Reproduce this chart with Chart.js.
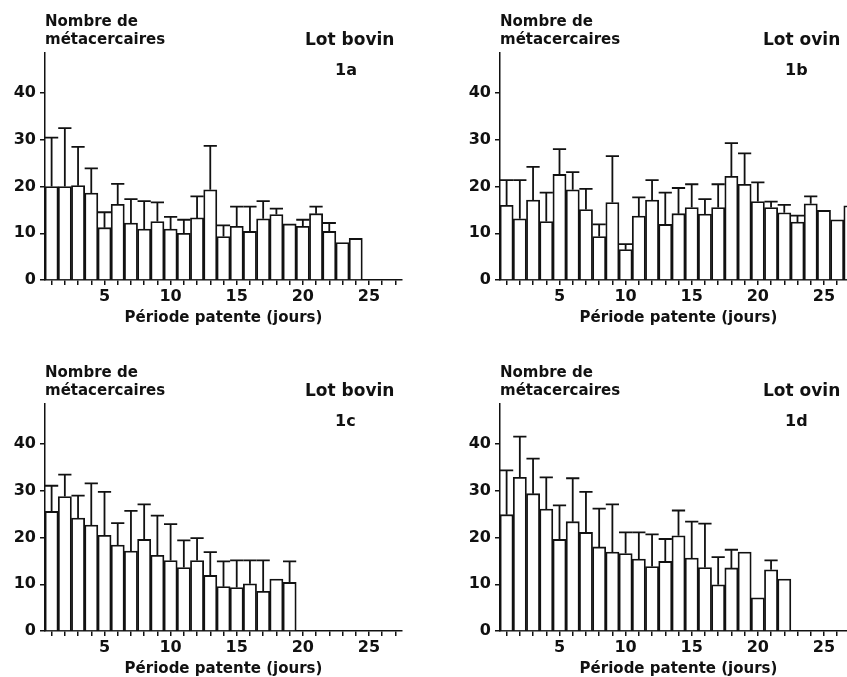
<!DOCTYPE html>
<html lang="fr">
<head>
<meta charset="utf-8">
<script src="https://cdn.jsdelivr.net/npm/chart.js@4"></script>
<style>
  html, body { margin: 0; padding: 0; background: #fff; overflow: hidden; width: 847px; height: 677px; position: relative; }
  .panel { position: absolute; width: 460px; height: 340px; }
  .panel canvas { position: absolute; left: 0; top: 0; }
  .lbl { position: absolute; font-family: 'DejaVu Sans', sans-serif; font-weight: bold; color: #111; white-space: nowrap; }
  .ytitre { left: 45px; top: 13px; font-size: 15px; line-height: 17.6px; }
  .lot { top: 29px; font-size: 17px; line-height: 20px; }
  .num { top: 60px; font-size: 16px; line-height: 20px; }
</style>
</head>
<body>
<script>
// jours de la période patente
const jours = [1, 2, 3, 4, 5, 6, 7, 8, 9, 10, 11, 12, 13, 14, 15, 16, 17, 18, 19, 20, 21, 22, 23, 24, 25, 26, 27];
const joursAffiches = [5, 10, 15, 20, 25];
const yTicks = [0, 10, 20, 30, 40];

// 1a - lot bovin
const bovin1a = [20, 20, 20.2, 18.6, 11.2, 16.2, 12.2, 10.9, 12.5, 10.9, 10, 13.3, 19.3, 9.3, 11.5, 10.4, 13.1, 14, 12, 11.5, 14.2, 10.4, 8, 8.9, null, null, null];
const bovin1aErr = [30.5, 32.5, 28.5, 23.9, 14.5, 20.6, 17.3, 16.9, 16.6, 13.5, 12.9, 17.9, 28.7, 11.7, 15.7, 15.7, 16.9, 15.3, null, 12.9, 15.7, 12.2, null, null, null, null, null];

// 1b - lot ovin
const ovin1b = [16, 13.1, 17.1, 12.5, 22.6, 19.3, 15.1, 9.3, 16.6, 6.5, 13.7, 17.1, 11.9, 14.2, 15.5, 14.1, 15.5, 22.2, 20.5, 16.8, 15.5, 14.4, 12.4, 16.3, 14.9, 12.9, 15.9];
const ovin1bErr = [21.4, 21.4, 24.2, 18.7, 28, 23.1, 19.5, 11.9, 26.5, 7.7, 17.7, 21.4, 18.7, 19.7, 20.5, 17.3, 20.5, 29.3, 27.1, 20.9, 16.8, 16.1, 13.8, 17.9, null, null, null];

// 1c - lot bovin
const bovin1c = [25.6, 28.8, 24.2, 22.7, 20.5, 18.4, 17.1, 19.6, 16.2, 15.1, 13.6, 15.1, 11.9, 9.5, 9.3, 10.1, 8.5, 11.1, 10.4, null, null, null, null, null, null, null, null];
const bovin1cErr = [31.1, 33.5, 29, 31.6, 29.8, 23.1, 25.7, 27.1, 24.7, 22.9, 19.4, 19.9, 16.9, 14.9, 15.1, 15.1, 15.1, null, 14.9, null, null, null, null, null, null, null, null];

// 1d - lot ovin
const ovin1d = [24.9, 32.9, 29.4, 26.1, 19.6, 23.4, 21.1, 18, 16.9, 16.6, 15.4, 13.8, 14.9, 20.4, 15.6, 13.6, 9.9, 13.5, 16.9, 7.1, 13.1, 11.1, null, null, null, null, null];
const ovin1dErr = [34.4, 41.6, 36.9, 32.9, 26.9, 32.7, 29.8, 26.2, 27.1, 21.1, 21.1, 20.7, 19.7, 25.8, 23.4, 23, 15.8, 17.4, null, null, 15.1, null, null, null, null, null, null];

const noir = '#111';

// barres d'erreur (seulement la moitié haute)
const barresErreur = {
    id: 'barresErreur',
    afterDatasetsDraw(chart, args, opts) {
        const { ctx, scales: { x, y } } = chart;
        const meta = chart.getDatasetMeta(0);
        ctx.save();
        ctx.strokeStyle = noir;
        ctx.lineWidth = 1.8;
        opts.hauts.forEach((h, i) => {
            if (h == null) return;
            const bar = meta.data[i];
            const px = x.getPixelForValue(i);
            const demi = bar.width / 2;
            const yh = y.getPixelForValue(h);
            ctx.beginPath();
            ctx.moveTo(px, bar.y);
            ctx.lineTo(px, yh);
            ctx.moveTo(px - demi, yh);
            ctx.lineTo(px + demi, yh);
            ctx.stroke();
        });
        ctx.restore();
    }
};

Chart.defaults.font.family = "'DejaVu Sans', sans-serif";
Chart.defaults.font.weight = 'bold';
Chart.defaults.color = noir;

function panneau(left, top, lot, num, valeurs, erreurs, lotLeft, numLeft) {
    const div = document.createElement('div');
    div.className = 'panel';
    div.style.left = left + 'px';
    div.style.top = top + 'px';
    div.innerHTML =
        '<canvas width="460" height="340"></canvas>' +
        '<div class="lbl ytitre">Nombre de<br>métacercaires</div>' +
        '<div class="lbl lot" style="left:' + lotLeft + 'px">' + lot + '</div>' +
        '<div class="lbl num" style="left:' + numLeft + 'px">' + num + '</div>';
    document.body.appendChild(div);

    new Chart(div.querySelector('canvas'), {
        type: 'bar',
        data: {
            labels: jours,
            datasets: [{
                data: valeurs,
                backgroundColor: '#fff',
                borderColor: noir,
                borderWidth: 1.8,
                barPercentage: 1,
                categoryPercentage: 1
            }]
        },
        options: {
            responsive: false,
            animation: false,
            devicePixelRatio: 1,
            layout: { padding: { left: 0, top: 53, right: 58, bottom: 0 } },
            plugins: {
                legend: { display: false },
                tooltip: { enabled: false },
                barresErreur: { hauts: erreurs }
            },
            scales: {
                x: {
                    grid: { display: true, drawOnChartArea: false, offset: false, tickLength: 5, color: noir, lineWidth: 1.5 },
                    border: { color: noir, width: 1.5 },
                    ticks: {
                        autoSkip: false, maxRotation: 0, padding: 2,
                        font: { size: 16, weight: 'bold' },
                        callback: (v, i) => joursAffiches.includes(jours[i]) ? String(jours[i]) : ''
                    },
                    title: {
                        display: true, text: 'Période patente (jours)',
                        font: { size: 15, weight: 'bold' },
                        padding: { top: 0, bottom: 13 }
                    },
                    afterFit: s => { s.height = 60; }
                },
                y: {
                    min: 0, max: 48.6,
                    grid: { display: true, drawOnChartArea: false, tickLength: 5, color: noir, lineWidth: 1.5 },
                    border: { color: noir, width: 1.5 },
                    ticks: { padding: 4, font: { size: 16, weight: 'bold' } },
                    afterBuildTicks: s => { s.ticks = yTicks.map(v => ({ value: v })); },
                    afterFit: s => { s.width = 45; }
                }
            }
        },
        plugins: [barresErreur]
    });
}

panneau(0, 0, 'Lot bovin', '1a', bovin1a, bovin1aErr, 305, 335);
panneau(455, 0, 'Lot ovin', '1b', ovin1b, ovin1bErr, 308, 330);
panneau(0, 351, 'Lot bovin', '1c', bovin1c, bovin1cErr, 305, 335);
panneau(455, 351, 'Lot ovin', '1d', ovin1d, ovin1dErr, 308, 330);
</script>
</body>
</html>
